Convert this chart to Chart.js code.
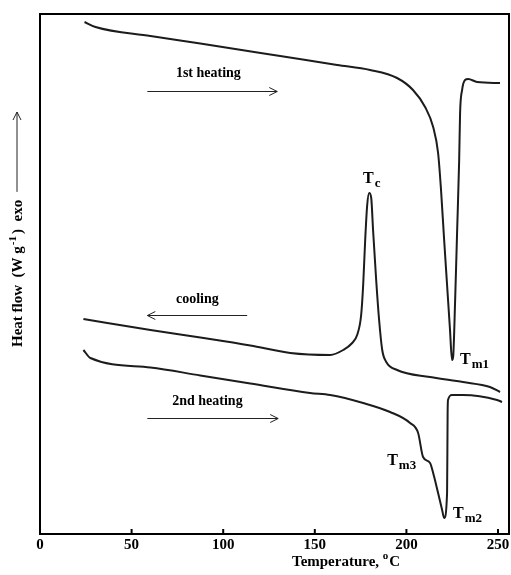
<!DOCTYPE html>
<html>
<head>
<meta charset="utf-8">
<script src="https://cdn.jsdelivr.net/npm/chart.js@4.4.0/dist/chart.umd.min.js"></script>
<style>
  html, body { margin: 0; padding: 0; background: #fff; }
  #wrap { width: 511px; height: 575px; position: relative; }
</style>
</head>
<body>
<div id="wrap"><canvas id="dsc"></canvas></div>
<script>
// temperatures (°C) and heat flow (arbitrary units, exo up)
const heat1T = [24.3, 30.3, 60.3, 87.5, 131.1, 162.2, 180.2, 194.9, 203.6, 210.2, 214.6, 217.3, 218.9, 220.6, 222.2, 223.8, 224.9, 225.5, 226.6, 227.7, 228.8, 229.3, 230.4, 232.0, 233.7, 238.6, 251.1];
const heat1Y = [51.2, 50.7, 49.8, 49.05, 47.8, 46.9, 46.4, 45.6, 44.4, 42.7, 40.7, 38.1, 34.4, 29.4, 24.9, 20.4, 17.4, 17.7, 23.4, 30.4, 37.4, 42.1, 44.4, 45.4, 45.5, 45.2, 45.1];

const coolT = [23.7, 60.3, 87.5, 114.8, 136.6, 158.4, 165.5, 170.4, 173.1, 175.3, 176.4, 177.5, 178.6, 179.7, 180.8, 181.8, 183.5, 185.1, 186.8, 189.0, 194.9, 212.9, 230.9, 245.6, 251.1];
const coolY = [21.5, 20.4, 19.65, 18.85, 18.1, 17.9, 18.4, 19.1, 19.9, 21.9, 24.9, 29.4, 32.9, 34.1, 33.6, 30.4, 25.4, 21.4, 18.4, 17.2, 16.4, 15.7, 15.2, 14.7, 14.2];

const heat2T = [23.7, 27.5, 60.3, 87.5, 114.8, 147.4, 158.4, 176.4, 191.1, 202.0, 206.4, 209.1, 212.9, 214.6, 217.3, 219.5, 220.6, 222.2, 222.5, 222.7, 224.9, 230.9, 249.5, 252.2];
const heat2Y = [18.4, 17.6, 16.65, 15.85, 15.05, 14.1, 13.9, 13.1, 12.2, 11.1, 10.1, 7.7, 7.1, 6.1, 4.1, 2.4, 1.6, 4.1, 12.1, 13.4, 13.9, 13.9, 13.4, 13.2];

const xTicks = [0, 50, 100, 150, 200, 250];
const xRange = [0, 256];
const yRange = [0, 52];

// peak labels: [main, subscript, T, heat flow]
const peakLabels = [
  ['T', 'c', 176.3, 35.5],
  ['T', 'm1', 229.3, 17.4],
  ['T', 'm3', 189.5, 7.3],
  ['T', 'm2', 225.5, 2.0]
];
// segment labels: [text, text T, text Y, arrow from T, arrow to T, arrow Y]
const runLabels = [
  ['1st heating', 91.9, 46.1, 58.6, 129.5, 44.3],
  ['cooling', 85.9, 23.5, 113.1, 58.6, 21.9],
  ['2nd heating', 91.4, 13.3, 58.6, 130.0, 11.6]
];

const serif = '"Liberation Serif", "Times New Roman", serif';
const ink = '#1c1c1c';

function toData(xs, ys) { return xs.map((x, i) => ({ x: x, y: ys[i] })); }

function arrowHead(ctx, x, y, dir) {
  ctx.beginPath();
  ctx.moveTo(x - dir * 8, y - 4);
  ctx.lineTo(x, y);
  ctx.lineTo(x - dir * 8, y + 4);
  ctx.stroke();
}

const decor = {
  id: 'decor',
  afterDraw(chart) {
    const ctx = chart.ctx;
    const a = chart.chartArea;
    const xs = chart.scales.x, ys = chart.scales.y;
    ctx.save();
    // frame
    ctx.strokeStyle = '#000';
    ctx.lineWidth = 2;
    ctx.strokeRect(a.left, a.top, a.right - a.left, a.bottom - a.top);
    // inward ticks + labels
    ctx.fillStyle = '#000';
    ctx.font = 'bold 15px ' + serif;
    ctx.textAlign = 'center';
    ctx.textBaseline = 'middle';
    xTicks.forEach(t => {
      const px = xs.getPixelForValue(t);
      ctx.beginPath();
      ctx.moveTo(px, a.bottom);
      ctx.lineTo(px, a.bottom - 5);
      ctx.stroke();
      ctx.fillText(String(t), px, a.bottom + 11);
    });
    // x title
    ctx.textAlign = 'left';
    ctx.textBaseline = 'alphabetic';
    let tx = 292;
    const s1 = 'Temperature, ';
    ctx.fillText(s1, tx, 566);
    tx += ctx.measureText(s1).width;
    ctx.font = 'bold 11px ' + serif;
    ctx.fillText('o', tx, 559);
    tx += ctx.measureText('o').width + 1;
    ctx.font = 'bold 15px ' + serif;
    ctx.fillText('C', tx, 566);

    // y title (rotated)
    ctx.save();
    ctx.translate(22, 347);
    ctx.rotate(-Math.PI / 2);
    let yx = 0;
    const p1 = 'Heat flow  (W g';
    ctx.font = 'bold 15px ' + serif;
    ctx.fillText(p1, yx, 0);
    yx += ctx.measureText(p1).width + 1;
    ctx.font = 'bold 11px ' + serif;
    ctx.fillText('-1', yx, -6);
    yx += ctx.measureText('-1').width + 2;
    ctx.font = 'bold 15px ' + serif;
    ctx.fillText(')  exo', yx, 0);
    yx += ctx.measureText(')  exo').width + 8;
    ctx.lineWidth = 1;
    ctx.strokeStyle = '#222';
    ctx.beginPath();
    ctx.moveTo(yx, -5);
    ctx.lineTo(235, -5);
    ctx.stroke();
    arrowHead(ctx, 235, -5, 1);
    ctx.restore();

    // run labels with arrows
    ctx.lineWidth = 1;
    ctx.strokeStyle = '#222';
    runLabels.forEach(r => {
      ctx.font = 'bold 14px ' + serif;
      ctx.textAlign = 'center';
      ctx.textBaseline = 'middle';
      ctx.fillText(r[0], xs.getPixelForValue(r[1]), ys.getPixelForValue(r[2]));
      const x0 = xs.getPixelForValue(r[3]), x1 = xs.getPixelForValue(r[4]);
      const py = Math.round(ys.getPixelForValue(r[5])) + 0.5;
      ctx.beginPath();
      ctx.moveTo(x0, py);
      ctx.lineTo(x1, py);
      ctx.stroke();
      arrowHead(ctx, x1, py, x1 > x0 ? 1 : -1);
    });

    // peak labels
    peakLabels.forEach(p => {
      const px = xs.getPixelForValue(p[2]), py = ys.getPixelForValue(p[3]);
      ctx.textAlign = 'left';
      ctx.textBaseline = 'middle';
      ctx.font = 'bold 16px ' + serif;
      ctx.fillText(p[0], px, py);
      const w = ctx.measureText(p[0]).width;
      ctx.font = 'bold 13px ' + serif;
      ctx.fillText(p[1], px + w + 1, py + 5);
    });
    ctx.restore();
  }
};

const lineStyle = {
  borderColor: ink,
  borderWidth: 2,
  pointRadius: 0,
  cubicInterpolationMode: 'monotone',
  fill: false
};

new Chart(document.getElementById('dsc'), {
  type: 'line',
  data: {
    datasets: [
      Object.assign({ label: '1st heating', data: toData(heat1T, heat1Y) }, lineStyle),
      Object.assign({ label: 'cooling', data: toData(coolT, coolY) }, lineStyle),
      Object.assign({ label: '2nd heating', data: toData(heat2T, heat2Y) }, lineStyle)
    ]
  },
  options: {
    responsive: true,
    maintainAspectRatio: false,
    animation: false,
    layout: { padding: { left: 40, right: 2, top: 14, bottom: 41 } },
    scales: {
      x: { type: 'linear', min: xRange[0], max: xRange[1], display: false },
      y: { type: 'linear', min: yRange[0], max: yRange[1], display: false }
    },
    plugins: {
      legend: { display: false },
      tooltip: { enabled: false }
    }
  },
  plugins: [decor]
});
</script>
</body>
</html>
